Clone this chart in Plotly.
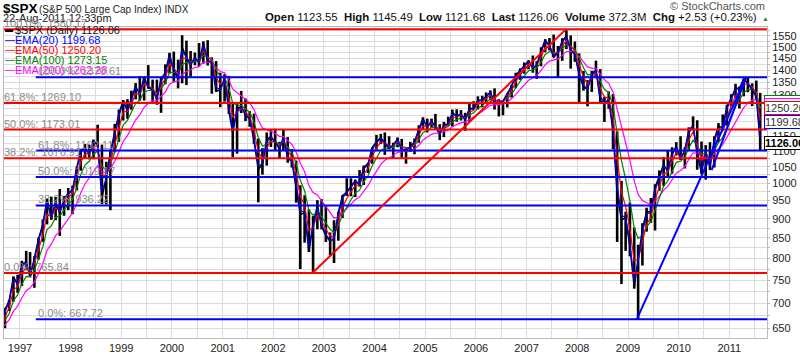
import math
import pandas as pd
import plotly.graph_objects as go

# ---------------- data (monthly, read / estimated from the chart) ----------------
start_month = "1996-01-01"
highs = [
    638, 664, 656, 656, 680, 673, 672, 670, 690, 707, 758, 762,            # 1996
    794, 818, 815, 805, 851, 898, 957, 961, 960, 983, 963, 986,            # 1997
    993, 1050, 1106, 1124, 1122, 1139, 1190, 1122, 1066, 1104, 1193, 1245,  # 1998
    1280, 1284, 1317, 1347, 1375, 1373, 1421, 1361, 1361, 1373, 1424, 1474, # 1999
    1479, 1444, 1553, 1528, 1482, 1475, 1517, 1525, 1530, 1454, 1438, 1389, # 2000
    1383, 1376, 1268, 1269, 1316, 1287, 1239, 1230, 1142, 1110, 1163, 1173, # 2001
    1176, 1131, 1173, 1147, 1107, 1070, 994, 965, 925, 907, 951, 954,       # 2002
    935, 864, 896, 919, 965, 1015, 1015, 1011, 1040, 1054, 1063, 1112,      # 2003
    1155, 1158, 1163, 1150, 1128, 1146, 1141, 1109, 1131, 1142, 1188, 1217, # 2004
    1212, 1212, 1229, 1192, 1200, 1219, 1245, 1246, 1243, 1233, 1270, 1276, # 2005
    1295, 1297, 1310, 1318, 1326, 1284, 1280, 1307, 1340, 1389, 1407, 1432, # 2006
    1441, 1462, 1438, 1498, 1535, 1540, 1556, 1504, 1539, 1576, 1552, 1524, # 2007
    1471, 1396, 1359, 1397, 1440, 1404, 1293, 1314, 1304, 1167, 1007, 919,  # 2008
    944, 877, 833, 888, 930, 957, 997, 1039, 1081, 1101, 1113, 1130,        # 2009
    1150, 1113, 1181, 1220, 1206, 1132, 1120, 1130, 1150, 1196, 1227, 1263, # 2010
    1303, 1344, 1333, 1365, 1371, 1346, 1357, 1308,                         # 2011
]
lows = [
    597, 633, 627, 624, 626, 662, 605, 639, 650, 684, 703, 722,
    737, 773, 756, 733, 797, 840, 885, 897, 896, 855, 908, 923,
    912, 979, 1038, 1076, 1074, 1074, 1114, 940, 939, 923, 1097, 1131,
    1205, 1211, 1244, 1283, 1278, 1279, 1325, 1268, 1263, 1233, 1342, 1386,
    1350, 1326, 1346, 1339, 1373, 1420, 1416, 1427, 1419, 1305, 1313, 1254,
    1275, 1229, 1081, 1092, 1232, 1203, 1183, 1125, 945, 1026, 1054, 1114,
    1101, 1075, 1104, 1063, 1048, 944, 775, 838, 815, 768, 872, 872,
    840, 807, 789, 843, 902, 963, 962, 960, 990, 995, 1031, 1060,
    1105, 1124, 1088, 1107, 1076, 1113, 1079, 1060, 1098, 1090, 1128, 1173,
    1163, 1180, 1176, 1137, 1147, 1188, 1184, 1201, 1205, 1169, 1201, 1245,
    1245, 1253, 1268, 1280, 1245, 1220, 1224, 1253, 1290, 1327, 1360, 1385,
    1403, 1389, 1364, 1416, 1476, 1484, 1454, 1371, 1439, 1490, 1406, 1435,
    1271, 1317, 1257, 1312, 1374, 1272, 1200, 1248, 1107, 840, 741, 818,
    805, 731, 667, 783, 866, 889, 869, 978, 992, 1020, 1029, 1086,
    1071, 1045, 1101, 1170, 1041, 1028, 1011, 1040, 1048, 1131, 1173, 1187,
    1257, 1289, 1249, 1295, 1311, 1258, 1283, 1101,
]
closes = [
    636.0, 640.4, 645.5, 654.2, 669.1, 670.6, 639.9, 652.0, 687.3, 705.3, 757.0, 740.7,
    786.2, 791.0, 757.1, 801.3, 848.3, 885.1, 954.3, 899.5, 947.3, 914.6, 955.4, 970.4,
    980.3, 1049.3, 1101.8, 1111.8, 1090.8, 1133.8, 1120.7, 957.3, 1017.0, 1098.7, 1163.6, 1229.2,
    1279.6, 1238.3, 1286.4, 1335.2, 1301.8, 1372.7, 1328.7, 1320.4, 1282.7, 1362.9, 1389.0, 1469.3,
    1394.5, 1366.4, 1498.6, 1452.4, 1420.6, 1454.6, 1430.8, 1517.7, 1436.5, 1429.4, 1315.0, 1320.3,
    1366.0, 1239.9, 1160.3, 1249.5, 1255.8, 1224.4, 1211.2, 1133.6, 1040.9, 1059.8, 1139.5, 1148.1,
    1130.2, 1106.7, 1147.4, 1076.9, 1067.1, 989.8, 911.6, 916.1, 815.3, 885.8, 936.3, 879.8,
    855.7, 841.2, 848.2, 916.9, 963.6, 974.5, 990.3, 1008.0, 996.0, 1050.7, 1058.2, 1111.9,
    1131.1, 1144.9, 1126.2, 1107.3, 1120.7, 1140.8, 1101.7, 1104.2, 1114.6, 1130.2, 1173.8, 1211.9,
    1181.3, 1203.6, 1180.6, 1156.9, 1191.5, 1191.3, 1234.2, 1220.3, 1228.8, 1207.0, 1249.5, 1248.3,
    1280.1, 1280.7, 1294.9, 1310.6, 1270.1, 1270.2, 1276.7, 1303.8, 1335.9, 1377.9, 1400.6, 1418.3,
    1438.2, 1406.8, 1420.9, 1482.4, 1530.6, 1503.4, 1455.3, 1474.0, 1526.8, 1549.4, 1481.1, 1468.4,
    1378.6, 1330.6, 1322.7, 1385.6, 1400.4, 1280.0, 1267.4, 1282.8, 1166.4, 968.8, 896.2, 903.3,
    825.9, 735.1, 797.9, 872.8, 919.1, 919.3, 987.5, 1020.6, 1057.1, 1036.2, 1095.6, 1115.1,
    1073.9, 1104.5, 1169.4, 1186.7, 1089.4, 1030.7, 1101.6, 1049.3, 1141.2, 1183.3, 1180.6, 1257.6,
    1286.1, 1327.2, 1325.8, 1363.6, 1345.2, 1320.6, 1292.3, 1126.06,
]

ema_periods = [20, 50, 100, 200]
ema_colors = ["#0000ff", "#ff0000", "#008000", "#ff00ff"]
ema_labels = ["EMA(20) 1199.68", "EMA(50) 1250.20", "EMA(100) 1273.15", "EMA(200) 1262.28"]

# Fibonacci retracements
red_fib_levels = [1580.17, 1269.10, 1173.01, 1076.91, 765.84]
red_fib_labels = ["100.0%: 1580.17", "61.8%: 1269.10", "50.0%: 1173.01", "38.2%: 1076.91", "0.0%: 765.84"]
blue_fib_levels = [1370.61, 1102.11, 1019.17, 936.22, 667.72]
blue_fib_labels = ["100.0%: 1370.61", "61.8%: 1102.11", "50.0%: 1019.17", "38.2%: 936.22", "0.0%: 667.72"]

# trend lines (date, value)
red_trend = [("2002-10-10", 765.84), ("2007-10-11", 1580.17)]
blue_trend1 = [("2009-03-06", 667.72), ("2011-05-02", 1370.61)]
blue_trend2 = [("2010-08-27", 1039.70), ("2011-05-02", 1370.61)]

# right-axis price tags
tag_values = [1273.15, 1262.28, 1250.20, 1199.68]
tag_colors = ["#008000", "#ff00ff", "#ff0000", "#0000ff"]
last_value = 1126.06

y_ticks = list(range(625, 1600, 25))
year_ticks = list(range(1997, 2012))

# ---------------- layout geometry ----------------
W, H = 800, 357
L, R, T, B = 3, 30, 27, 14
PW, PH = W - L - R, H - T - B
X0, X1 = "1996-09-08", "2011-09-30"
FONT = "Liberation Sans, Arial, sans-serif"

dates = pd.date_range(start_month, periods=len(closes), freq="MS") + pd.Timedelta(days=14)
dates = list(dates)
dates[-1] = pd.Timestamp("2011-08-12")

fig = go.Figure()

# price bars (high-low)
bx, by = [], []
for d, h, l in zip(dates, highs, lows):
    bx += [d, d, None]
    by += [l, h, None]
fig.add_trace(go.Scatter(x=bx, y=by, mode="lines", line=dict(color="black", width=2.6),
                         hoverinfo="skip", showlegend=False))
fig.add_trace(go.Scatter(x=dates, y=closes, mode="lines", line=dict(color="black", width=1.5),
                         hoverinfo="skip", showlegend=False))

# EMAs (computed from closes, monthly-equivalent smoothing of the daily period)
cs = pd.Series(closes, index=dates)
for p, col in zip(ema_periods[::-1], ema_colors[::-1]):
    alpha = 1 - (1 - 2 / (p + 1)) ** 21
    ema = cs.ewm(alpha=alpha, adjust=False).mean()
    fig.add_trace(go.Scatter(x=list(ema.index), y=list(ema.values), mode="lines",
                             line=dict(color=col, width=1.2), hoverinfo="skip", showlegend=False))

# fib lines
for lv in red_fib_levels:
    fig.add_trace(go.Scatter(x=[X0, X1], y=[lv, lv], mode="lines",
                             line=dict(color="#ff0000", width=2), hoverinfo="skip", showlegend=False))
for lv in blue_fib_levels:
    fig.add_trace(go.Scatter(x=["1997-04-25", X1], y=[lv, lv], mode="lines",
                             line=dict(color="#0000ff", width=2), hoverinfo="skip", showlegend=False))

# trend lines
for seg, col in [(red_trend, "#ff0000"), (blue_trend1, "#0000ff"), (blue_trend2, "#0000ff")]:
    fig.add_trace(go.Scatter(x=[s[0] for s in seg], y=[s[1] for s in seg], mode="lines",
                             line=dict(color=col, width=2), hoverinfo="skip", showlegend=False))

ann = []


def px(xp):
    return (xp - L) / PW


def py(yp):
    return (H - B - yp) / PH


def text(xp, yp, t, size=11, color="#000", xanchor="left", bold=False):
    ann.append(dict(x=px(xp), y=py(yp), xref="paper", yref="paper", text=("<b>%s</b>" % t) if bold else t,
                    showarrow=False, xanchor=xanchor, yanchor="middle",
                    font=dict(family=FONT, size=size, color=color)))


# header
text(0, 8, "$SPX", size=13.5, bold=True)
text(36, 9, "(S&amp;P 500 Large Cap Index) INDX", size=10, color="#222")
text(0, 18, "22-Aug-2011 12:33pm", size=11, color="#222")
text(770, 6, "© StockCharts.com", size=11, color="#555", xanchor="right")
text(762, 17, "<b>Open</b> 1123.55  <b>High</b> 1145.49  <b>Low</b> 1121.68  <b>Last</b> 1126.06  "
     "<b>Volume</b> 372.3M  <b>Chg</b> +2.53 (+0.23%)", size=11.4, color="#111", xanchor="right")
text(763, 18, "▲", size=7, color="#2e8b2e")

# legend
text(2, 30, "▬", size=8, color="#000")
text(12, 30, "$SPX (Daily) 1126.06", size=11, color="#111")
for i, (lab, col) in enumerate(zip(ema_labels, ema_colors)):
    yy = 40 + i * 10.2
    text(2, yy, "—", size=10, color=col)
    text(12, yy, lab, size=11, color=col)

# fib labels
for lv, lab in zip(red_fib_levels, red_fib_labels):
    ann.append(dict(x=px(1), y=math.log10(lv), xref="paper", yref="y", text=lab, showarrow=False,
                    xanchor="left", yanchor="bottom", yshift=-2,
                    font=dict(family=FONT, size=11, color="#8c8c8c")))
for lv, lab in zip(blue_fib_levels, blue_fib_labels):
    ann.append(dict(x=px(35), y=math.log10(lv), xref="paper", yref="y", text=lab, showarrow=False,
                    xanchor="left", yanchor="bottom", yshift=-2,
                    font=dict(family=FONT, size=11, color="#8c8c8c")))

# price tags on the right axis
for v, col in zip(tag_values, tag_colors):
    ann.append(dict(x=1, y=math.log10(v), xref="paper", yref="y", text="%.2f" % v, showarrow=False,
                    xanchor="left", yanchor="middle", xshift=-3, bgcolor="white", bordercolor=col,
                    borderwidth=1, borderpad=0, font=dict(family=FONT, size=11, color="#333")))
ann.append(dict(x=1, y=math.log10(last_value), xref="paper", yref="y", text="<b>%.2f</b>" % last_value,
                showarrow=False, xanchor="left", yanchor="middle", xshift=-3, bgcolor="white",
                bordercolor="#000", borderwidth=1, borderpad=0,
                font=dict(family=FONT, size=11, color="#000")))

xt_vals, xt_text = [], []
for yv in year_ticks:
    xt_vals += ["%d-01-01" % yv, "%d-07-01" % yv]
    xt_text += [str(yv), ""]

fig.update_layout(
    width=W, height=H,
    margin=dict(l=L, r=R, t=T, b=B),
    paper_bgcolor="white", plot_bgcolor="white",
    showlegend=False,
    annotations=ann,
    font=dict(family=FONT, size=11, color="#222"),
    xaxis=dict(type="date", range=[X0, X1], tickmode="array", tickvals=xt_vals, ticktext=xt_text,
               showgrid=True, gridcolor="#dcdcdc", gridwidth=1, zeroline=False,
               showline=True, linecolor="#bbbbbb", mirror=True, ticks="", tickangle=0,
               tickfont=dict(family=FONT, size=11, color="#222")),
    yaxis=dict(type="log", side="right", range=[math.log10(631.3), math.log10(1591.3)],
               tickmode="array", tickvals=y_ticks,
               ticktext=[str(v) if v % 50 == 0 else "" for v in y_ticks],
               showgrid=True, gridcolor="#dcdcdc", gridwidth=1, zeroline=False,
               showline=True, linecolor="#bbbbbb", mirror=True, ticks="outside", ticklen=2,
               tickcolor="#bbbbbb", tickfont=dict(family=FONT, size=11, color="#222")),
)

fig.write_html("out.html", config={"displayModeBar": False},
               post_script="document.body.style.margin='0';document.body.style.overflow='hidden';")
